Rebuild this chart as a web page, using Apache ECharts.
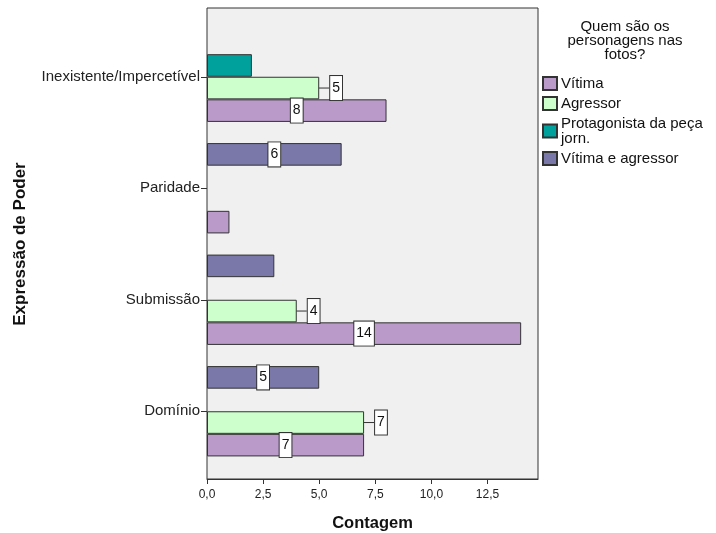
<!DOCTYPE html>
<html>
<head>
<meta charset="utf-8">
<script src="https://cdn.jsdelivr.net/npm/echarts@6/dist/echarts.min.js"></script>
<style>
  html, body { margin: 0; padding: 0; background: #fff; }
  #chart { width: 716px; height: 533px; }
</style>
</head>
<body>
<div id="chart"></div>
<script>
// categorias de baixo para cima
const categorias = ['Domínio', 'Submissão', 'Paridade', 'Inexistente/Impercetível'];
const nomesSeries = ['Vítima', 'Agressor', 'Protagonista da peça\njorn.', 'Vítima e agressor'];
const vitima = [7, 14, 1, 8];
const agressor = [7, 4, null, 5];
const protagonista = [null, null, null, 2];
const vitimaAgressor = [5, 3, 6, null];
// quais barras têm rótulo de valor
const comRotulo = [
  [true, true, false, true],
  [true, true, false, true],
  [false, false, false, false],
  [true, false, true, false]
];
const ticksX = [0, 2.5, 5, 7.5, 10, 12.5];

const cores = ['#b99ac9', '#ccffcc', '#00a09c', '#7a78a8'];
const fonte = 'Liberation Sans, Arial, sans-serif';
const valores = [vitima, agressor, protagonista, vitimaAgressor];

const caixaRotulo = {
  backgroundColor: '#fff',
  borderColor: '#333',
  borderWidth: 1,
  padding: [5, 2],
  color: '#111',
  fontSize: 14,
  fontFamily: fonte
};

const series = valores.map((vals, s) => {
  const fora = s === 1; // rótulos do Agressor ficam fora da barra
  return {
    name: nomesSeries[s],
    type: 'bar',
    xAxisIndex: 1,
    yAxisIndex: 1,
    barGap: 0,
    barCategoryGap: '19%',
    itemStyle: { color: cores[s], borderColor: '#333', borderWidth: 1 },
    data: vals.map((v, i) => ({
      value: v,
      label: Object.assign({
        show: v != null && comRotulo[s][i],
        position: fora ? 'right' : 'inside',
        distance: 0
      }, caixaRotulo)
    })),
    labelLayout: fora ? { dx: 11 } : undefined,
    labelLine: fora ? { show: true, lineStyle: { color: '#333', width: 1 } } : undefined
  };
}).reverse(); // no ECharts a primeira série fica em cima

const chart = echarts.init(document.getElementById('chart'));
chart.setOption({
  backgroundColor: '#fff',
  animation: false,
  title: {
    text: 'Quem são os\npersonagens nas\nfotos?',
    left: 620,
    top: 15,
    textAlign: 'center',
    textStyle: { fontSize: 15, fontWeight: 'normal', color: '#111', fontFamily: fonte, lineHeight: 14 }
  },
  legend: {
    orient: 'vertical',
    left: 537,
    top: 71,
    itemWidth: 14,
    itemHeight: 13,
    itemGap: 5,
    icon: 'rect',
    data: nomesSeries,
    textStyle: { fontSize: 15, color: '#111', fontFamily: fonte, lineHeight: 15, padding: [0, 0, 0, -1] }
  },
  grid: [
    { left: 207, right: 178, top: 8, bottom: 54, outerBoundsMode: 'none', show: true, backgroundColor: '#f0f0f0', borderColor: '#333', borderWidth: 1 },
    { left: 207, right: 178, top: 21, bottom: 66, outerBoundsMode: 'none' }
  ],
  xAxis: [
    {
      type: 'value', gridIndex: 0, min: 0, max: 14.75, interval: 2.5,
      name: 'Contagem', nameLocation: 'middle', nameGap: 36,
      nameTextStyle: { fontSize: 16.5, fontWeight: 'bold', color: '#111', fontFamily: fonte },
      axisLine: { show: true, lineStyle: { color: '#333' } },
      axisTick: { show: true, length: 5, customValues: ticksX, lineStyle: { color: '#333' } },
      splitLine: { show: false },
      axisLabel: {
        fontSize: 12, color: '#222', fontFamily: fonte, margin: 10,
        customValues: ticksX,
        formatter: v => v.toFixed(1).replace('.', ',')
      }
    },
    { type: 'value', gridIndex: 1, min: 0, max: 14.75, show: false }
  ],
  yAxis: [
    { type: 'value', gridIndex: 0, show: false },
    {
      type: 'category', gridIndex: 1, data: categorias,
      name: 'Expressão de Poder', nameLocation: 'middle', nameGap: 178, nameRotate: 90,
      nameTextStyle: { fontSize: 17, fontWeight: 'bold', color: '#111', fontFamily: fonte },
      axisLine: { show: false },
      axisTick: { show: true, alignWithLabel: true, length: 6, lineStyle: { color: '#333' } },
      axisLabel: { fontSize: 15, color: '#222', fontFamily: fonte, margin: 7 }
    }
  ],
  series: series
});
</script>
</body>
</html>
